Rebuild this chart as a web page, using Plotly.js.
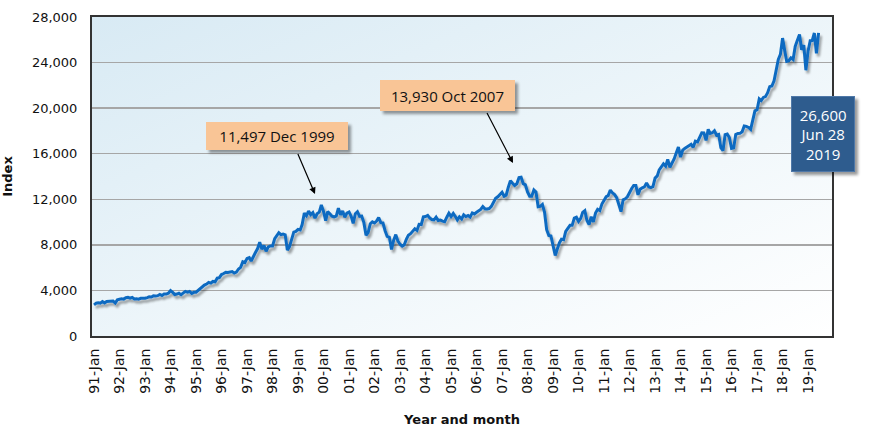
<!DOCTYPE html>
<html>
<head>
<meta charset="utf-8">
<script src="https://cdn.plot.ly/plotly-3.0.1.min.js"></script>
<style>html,body{margin:0;padding:0;background:#fff;}#chart{width:870px;height:438px;}</style>
</head>
<body>
<div id="chart"></div>
<script>
// Monthly index values, Jan 1991 – Jun 2019
const y1991 = [2736, 2882, 2914, 2888, 3028, 2907, 3025, 3044, 3017, 3069, 2895, 3169];
const y1992 = [3224, 3267, 3236, 3359, 3397, 3319, 3394, 3257, 3272, 3226, 3305, 3301];
const y1993 = [3310, 3371, 3435, 3428, 3527, 3516, 3540, 3651, 3555, 3681, 3684, 3754];
const y1994 = [3978, 3832, 3636, 3682, 3758, 3625, 3765, 3913, 3843, 3908, 3739, 3834];
const y1995 = [3844, 4011, 4158, 4321, 4465, 4556, 4709, 4647, 4789, 4756, 5075, 5117];
const y1996 = [5395, 5486, 5588, 5569, 5643, 5655, 5529, 5616, 5882, 6029, 6522, 6448];
const y1997 = [6813, 6878, 6584, 7009, 7331, 7673, 8223, 7622, 7945, 7442, 7823, 7908];
const y1998 = [7907, 8546, 8800, 9063, 8900, 8952, 8883, 7539, 7843, 8592, 9117, 9181];
const y1999 = [9359, 9307, 9786, 10789, 10560, 10971, 10655, 10829, 10337, 10729, 10878, 11497];
const y2000 = [10940, 10128, 10922, 10734, 10522, 10448, 10522, 11215, 10651, 10971, 10415, 10787];
const y2001 = [10887, 10495, 9879, 10735, 10912, 10502, 10523, 9950, 8848, 9075, 9852, 10021];
const y2002 = [9920, 10106, 10404, 9946, 9925, 9243, 8737, 8664, 7592, 8397, 8896, 8342];
const y2003 = [8054, 7891, 7992, 8480, 8850, 8985, 9234, 9416, 9275, 9801, 9782, 10454];
const y2004 = [10488, 10584, 10358, 10226, 10188, 10435, 10140, 10174, 10080, 10027, 10428, 10783];
const y2005 = [10490, 10766, 10504, 10193, 10467, 10275, 10641, 10482, 10569, 10440, 10806, 10718];
const y2006 = [10865, 10993, 11109, 11367, 11168, 11150, 11186, 11381, 11679, 12081, 12222, 12463];
const y2007 = [12622, 12269, 12354, 13063, 13628, 13409, 13212, 13358, 13896, 13930, 13372, 13265];
const y2008 = [12650, 12266, 12263, 12820, 12638, 11350, 11378, 11544, 10851, 9325, 8829, 8776];
const y2009 = [8001, 7063, 7609, 8168, 8500, 8447, 9172, 9496, 9712, 9713, 10345, 10428];
const y2010 = [10067, 10325, 10857, 11009, 10137, 9774, 10466, 10015, 10788, 11118, 11006, 11578];
const y2011 = [11892, 12226, 12320, 12811, 12570, 12414, 12143, 11614, 10913, 11955, 12046, 12218];
const y2012 = [12633, 12952, 13212, 13214, 12393, 12880, 13009, 13091, 13437, 13096, 13026, 13104];
const y2013 = [13861, 14054, 14579, 14840, 15116, 14910, 15500, 14810, 15130, 15546, 16086, 16577];
const y2014 = [15699, 16322, 16458, 16581, 16717, 16827, 16563, 17098, 17043, 17391, 17828, 17823];
const y2015 = [17165, 18133, 17776, 17841, 18011, 17620, 17690, 16528, 16285, 17664, 17720, 17425];
const y2016 = [16466, 16517, 17685, 17774, 17787, 17930, 18432, 18401, 18308, 18142, 19124, 19763];
const y2017 = [19864, 20812, 20663, 20941, 21009, 21350, 21891, 21948, 22405, 23377, 24272, 24719];
const y2018 = [26149, 25029, 24103, 24163, 24416, 24271, 25415, 25965, 26458, 25116, 25538, 23327];
const y2019 = [24999, 25916, 25929, 26593, 24815, 26600];

const years = [1991,1992,1993,1994,1995,1996,1997,1998,1999,2000,2001,2002,2003,2004,2005,2006,2007,2008,2009,2010,2011,2012,2013,2014,2015,2016,2017,2018,2019];
const yearValues = [y1991,y1992,y1993,y1994,y1995,y1996,y1997,y1998,y1999,y2000,y2001,y2002,y2003,y2004,y2005,y2006,y2007,y2008,y2009,y2010,y2011,y2012,y2013,y2014,y2015,y2016,y2017,y2018,y2019];

const tickLabels = ["91-Jan","92-Jan","93-Jan","94-Jan","95-Jan","96-Jan","97-Jan","98-Jan","99-Jan","00-Jan","01-Jan","02-Jan","03-Jan","04-Jan","05-Jan","06-Jan","07-Jan","08-Jan","09-Jan","10-Jan","11-Jan","12-Jan","13-Jan","14-Jan","15-Jan","16-Jan","17-Jan","18-Jan","19-Jan"];
const tickDates = years.map(y => y + "-01-01");

const yTickVals = [0, 4000, 8000, 12000, 16000, 20000, 24000, 28000];

const peak1Label = "11,497 Dec 1999";
const peak2Label = "13,930 Oct 2007";
const lastLabel = "26,600<br>Jun 28<br>2019";

// build series
const xDates = [], yVals = [];
years.forEach((yr, i) => {
  yearValues[i].forEach((v, m) => {
    xDates.push(yr + "-" + String(m + 1).padStart(2, "0") + "-01");
    yVals.push(v);
  });
});

const gradSvg = '<svg xmlns="http://www.w3.org/2000/svg" width="100" height="100" viewBox="0 0 100 100" preserveAspectRatio="none">' +
  '<defs><linearGradient id="g" x1="0" y1="0" x2="1" y2="1">' +
  '<stop offset="0" stop-color="#d8eaf4"/><stop offset="0.55" stop-color="#eef6fa"/><stop offset="1" stop-color="#ffffff"/>' +
  '</linearGradient></defs><rect width="100" height="100" fill="url(#g)"/></svg>';
const gradUri = "data:image/svg+xml;charset=utf-8," + encodeURIComponent(gradSvg);

const tickFont = {family: "DejaVu Sans", size: 13, color: "#111"};
const boxFont = {family: "Open Sans", size: 15, color: "#111"};

const trace = {
  x: xDates, y: yVals, type: "scatter", mode: "lines",
  line: {color: "#0f6bc1", width: 3},
  hoverinfo: "x+y", showlegend: false
};

const layout = {
  width: 870, height: 438,
  margin: {l: 92, r: 38, t: 17, b: 102},
  paper_bgcolor: "#ffffff",
  plot_bgcolor: "rgba(0,0,0,0)",
  showlegend: false,
  images: [{source: gradUri, xref: "paper", yref: "paper", x: 0, y: 1, sizex: 1, sizey: 1,
            xanchor: "left", yanchor: "top", sizing: "stretch", layer: "below"}],
  xaxis: {
    type: "date",
    range: ["1990-12-03", "2019-12-10"],
    tickvals: tickDates, ticktext: tickLabels,
    tickangle: -90, tickfont: {family: "DejaVu Sans", size: 14, color: "#111"},
    ticks: "", ticklabelstandoff: 5,
    showgrid: false, zeroline: false,
    showline: true, linecolor: "#333", linewidth: 2, mirror: true,
    title: {text: "Year and month", font: {family: "DejaVu Sans", size: 13, color: "#111", weight: "bold"}, standoff: 22}
  },
  yaxis: {
    range: [0, 28000],
    tickvals: yTickVals, tickformat: ",",
    tickfont: tickFont, ticks: "", ticklabelstandoff: 10,
    showgrid: true, gridcolor: "#a6a6a6", gridwidth: 1.5,
    zeroline: false,
    showline: true, linecolor: "#333", linewidth: 2, mirror: true,
    title: {text: "Index", font: {family: "DejaVu Sans", size: 13, color: "#111", weight: "bold"}, standoff: 56}
  },
  annotations: [
    {xref: "paper", yref: "paper", x: 0.25, y: 0.627, text: peak1Label, showarrow: false,
     bgcolor: "#f9c596", width: 142, height: 28, borderpad: 0, borderwidth: 0, font: boxFont,
     xanchor: "center", yanchor: "middle"},
    {xref: "paper", yref: "paper", x: 0.4804, y: 0.7539, text: peak2Label, showarrow: false,
     bgcolor: "#f9c596", width: 135, height: 31, borderpad: 0, borderwidth: 0, font: boxFont,
     xanchor: "center", yanchor: "middle"},
    {xref: "paper", yref: "paper", x: 0.9878, y: 0.6332, text: lastLabel, showarrow: false,
     bgcolor: "#2f5b8e", bordercolor: "#4f78a8", borderwidth: 1, width: 62, height: 74, borderpad: 0,
     font: {family: "Open Sans", size: 15, color: "#ffffff"}, xanchor: "center", yanchor: "middle"},
    {xref: "paper", yref: "paper", x: 0.3014, y: 0.4451, text: " ", font: {size: 1},
     showarrow: true, arrowhead: 2, arrowsize: 1.1, arrowwidth: 1.2, arrowcolor: "#000",
     axref: "pixel", ayref: "pixel", ax: -18, ay: -42},
    {xref: "paper", yref: "paper", x: 0.5689, y: 0.5423, text: " ", font: {size: 1},
     showarrow: true, arrowhead: 2, arrowsize: 1.1, arrowwidth: 1.2, arrowcolor: "#000",
     axref: "pixel", ayref: "pixel", ax: -27, ay: -52}
  ]
};

Plotly.newPlot("chart", [trace], layout, {displayModeBar: false, staticPlot: true}).then(gd => {
  const svg = gd.querySelector("svg.main-svg");
  const ns = "http://www.w3.org/2000/svg";
  let defs = svg.querySelector("defs");
  if (!defs) { defs = document.createElementNS(ns, "defs"); svg.insertBefore(defs, svg.firstChild); }
  function addShadow(id, dx, dy, sd, op) {
    const f = document.createElementNS(ns, "filter");
    f.setAttribute("id", id);
    f.setAttribute("x", "-20%"); f.setAttribute("y", "-20%");
    f.setAttribute("width", "150%"); f.setAttribute("height", "150%");
    const d = document.createElementNS(ns, "feDropShadow");
    d.setAttribute("dx", dx); d.setAttribute("dy", dy);
    d.setAttribute("stdDeviation", sd);
    d.setAttribute("flood-color", "#000"); d.setAttribute("flood-opacity", op);
    f.appendChild(d); defs.appendChild(f);
  }
  addShadow("lineShadow", 2, 3, 1.2, 0.35);
  addShadow("boxShadow", 3, 3, 1.5, 0.4);
  gd.querySelectorAll(".scatterlayer .js-line").forEach(p => p.setAttribute("filter", "url(#lineShadow)"));
  gd.querySelectorAll(".annotation-text-g rect.bg").forEach(r => {
    if (r.getAttribute("width") > 20) r.setAttribute("filter", "url(#boxShadow)");
  });
});
</script>
</body>
</html>
